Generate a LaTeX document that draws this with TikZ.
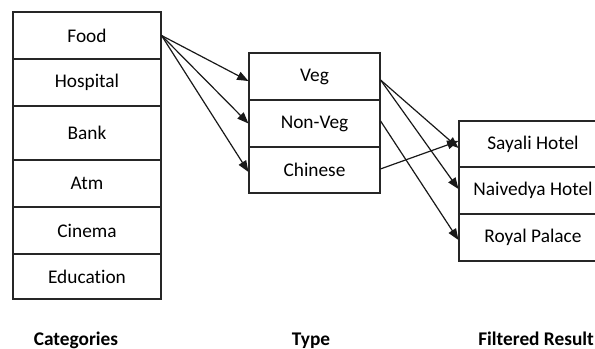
\documentclass[tikz,border=0pt]{standalone}
\usepackage{fontspec}
\setmainfont{Carlito}[Ligatures=NoCommon]
\usetikzlibrary{arrows.meta}

\begin{document}
\begin{tikzpicture}[x=0.75pt,y=0.75pt,yscale=-1,xscale=1,
  cell/.style={draw=black!85, line width=0.8pt, rectangle, inner sep=0pt,
    minimum width=111pt, font=\fontsize{14.5}{17}\selectfont},
  midcell/.style={cell, minimum width=98.25pt},
  link/.style={draw=black!90, line width=0.9pt, -{Triangle[length=8.5pt,width=6.5pt]}},
  caption/.style={anchor=base, inner sep=0pt, font=\fontsize{14.5}{17}\selectfont\bfseries}]
\useasboundingbox (0,0) rectangle (595,349);

% Categories
\node [cell, minimum height=35.25pt] (food) at (87,35.5) {Food};
\node [cell, minimum height=35.25pt] (hospital) at (87,82.5) {Hospital};
\node [cell, minimum height=40.5pt] (bank) at (87,133) {Bank};
\node [cell, minimum height=35.25pt] (atm) at (87,183.5) {Atm};
\node [cell, minimum height=35.25pt] (cinema) at (87,230.5) {Cinema};
\node [cell, minimum height=33.75pt] (education) at (87,276.5) {Education};

% Type
\node [midcell, minimum height=35.25pt] (veg) at (314.5,76.5) {Veg};
\node [midcell, minimum height=35.25pt] (nonveg) at (314.5,123.5) {Non-Veg};
\node [midcell, minimum height=34.5pt] (chinese) at (314.5,170) {Chinese};

% Filtered Result
\node [cell, minimum height=34.5pt] (sayali) at (533,144) {Sayali Hotel};
\node [cell, minimum height=35.25pt] (naivedya) at (533,190.5) {Naivedya Hotel};
\node [cell, minimum height=35.25pt] (royal) at (533,237.5) {Royal Palace};

% Arrows
\draw [link] (food.east) -- ([yshift=3.4pt]veg.west);
\draw [link] (food.east) -- (nonveg.west);
\draw [link] (food.east) -- ([yshift=1.5pt]chinese.west);
\draw [link] ([yshift=2.6pt]veg.east) -- ([yshift=3pt]sayali.west);
\draw [link] ([yshift=2.6pt]veg.east) -- ([yshift=-1.1pt]naivedya.west);
\draw [link] ([yshift=-1.9pt]nonveg.east) -- ([yshift=1.9pt]royal.west);
\draw [link] ([yshift=-0.8pt]chinese.east) -- ([yshift=-2.25pt]sayali.west);

% Text Node
\node [caption] (categories) at (76,345) {Categories};
% Text Node
\node [caption] (type) at (311,345) {Type};
% Text Node
\node [caption, anchor=base west] (filtered) at (478,345) {Filtered Result};

\end{tikzpicture}
\end{document}
